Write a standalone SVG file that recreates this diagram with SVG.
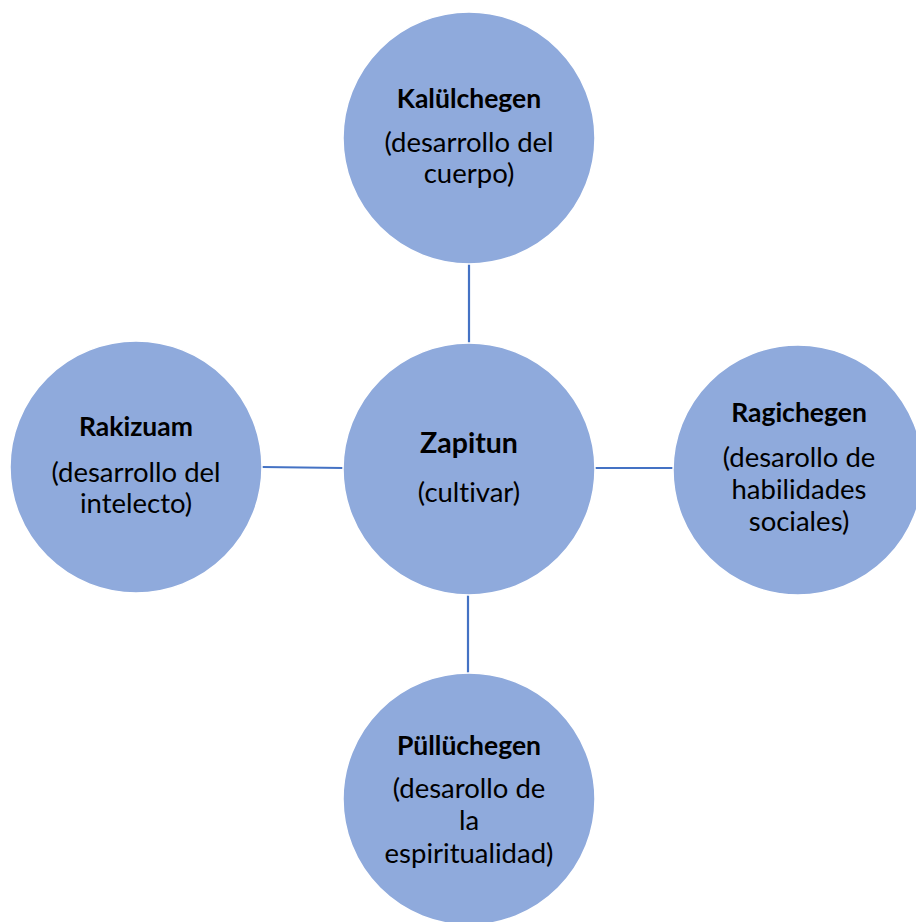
<svg xmlns="http://www.w3.org/2000/svg" width="916" height="922" viewBox="0 0 916 922">
<style>
.n{fill:#8FAADC;stroke:#FFFFFF;stroke-width:1.5}
.c{stroke:#4472C4;stroke-width:2.2;fill:none}
text{font-family:Lato,"Open Sans","Liberation Sans",sans-serif;font-size:27.5px;fill:#000;text-anchor:middle;font-variant-ligatures:none}
.t{font-weight:bold;font-size:26.5px}
</style>
<rect width="916" height="922" fill="#FFFFFF"/>
<g id="connectors">
<line class="c" x1="469" y1="264" x2="469" y2="343"/>
<line class="c" x1="262" y1="467" x2="343" y2="468"/>
<line class="c" x1="595" y1="468" x2="673" y2="468"/>
<line class="c" x1="468" y1="595" x2="468" y2="673"/>
</g>
<g id="kalulchegen">
<circle class="n" cx="469" cy="138" r="126"/>
<text class="t" x="469" y="108">Kalülchegen</text>
<text x="469" y="152">(desarrollo del</text>
<text x="469" y="183">cuerpo)</text>
</g>
<g id="zapitun">
<circle class="n" cx="469" cy="469" r="126"/>
<text class="t" x="469" y="453" style="font-size:28.5px">Zapitun</text>
<text x="469" y="502">(cultivar)</text>
</g>
<g id="rakizuam">
<circle class="n" cx="136" cy="467" r="126"/>
<text class="t" x="136" y="436">Rakizuam</text>
<text x="136" y="482">(desarrollo del</text>
<text x="136" y="513">intelecto)</text>
</g>
<g id="ragichegen">
<circle class="n" cx="798" cy="470" r="125"/>
<text class="t" x="799" y="422">Ragichegen</text>
<text x="799" y="467">(desarollo de</text>
<text x="799" y="499">habilidades</text>
<text x="799" y="531">sociales)</text>
</g>
<g id="pulluchegen">
<circle class="n" cx="469" cy="799" r="126"/>
<text class="t" x="469" y="755">Püllüchegen</text>
<text x="469" y="798">(desarollo de</text>
<text x="469" y="830">la</text>
<text x="469" y="863">espiritualidad)</text>
</g>
</svg>
